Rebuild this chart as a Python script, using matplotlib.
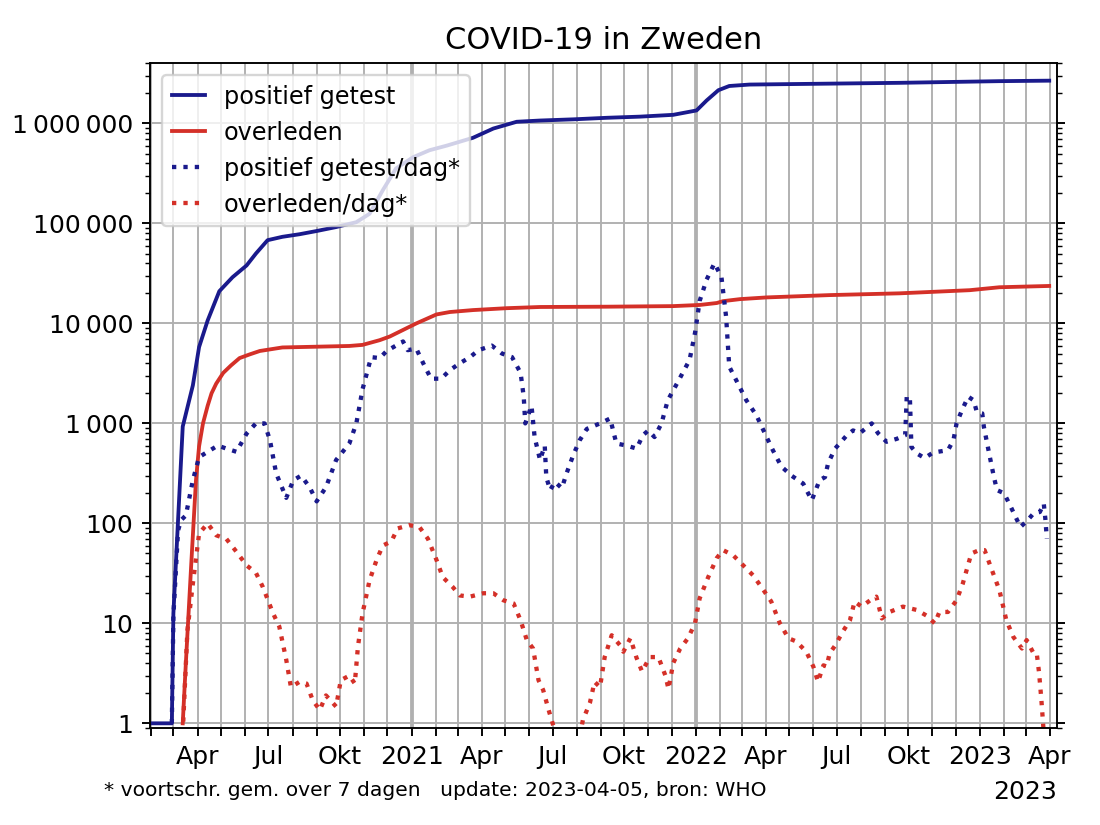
import matplotlib
matplotlib.use("Agg")
import matplotlib.pyplot as plt
import matplotlib.dates as mdates
from matplotlib.ticker import FuncFormatter, LogLocator, NullFormatter
import numpy as np
import pandas as pd

# cumulatieve reeksen
cum_pos_dates = ["2020-02-01", "2020-02-28", "2020-03-01", "2020-03-13", "2020-03-26", "2020-04-03",
                 "2020-04-14", "2020-04-29", "2020-05-16", "2020-06-03", "2020-06-15", "2020-06-30",
                 "2020-07-19", "2020-08-10", "2020-09-01", "2020-09-26", "2020-10-22", "2020-11-08",
                 "2020-11-25", "2020-12-12", "2021-01-03", "2021-01-24", "2021-02-15", "2021-03-21",
                 "2021-04-16", "2021-05-16", "2021-06-15", "2021-07-28", "2021-09-09", "2021-10-21",
                 "2021-12-03", "2022-01-02", "2022-01-15", "2022-01-30", "2022-02-13", "2022-03-11",
                 "2022-09-20", "2022-11-23", "2023-01-26", "2023-03-31"]
cum_pos = [1, 1, 12.6, 930, 2400, 5800,
           10700, 21000, 29000, 38000, 50000, 68000,
           73500, 78000, 84000, 92000, 103000, 125000,
           215000, 355000, 460000, 540000, 600000, 720000,
           890000, 1040000, 1070000, 1100000, 1140000, 1170000,
           1220000, 1350000, 1700000, 2150000, 2370000, 2450000,
           2550000, 2600000, 2650000, 2680000]

cum_dead_dates = ["2020-03-13", "2020-03-17", "2020-03-24", "2020-03-30", "2020-04-03", "2020-04-08",
                  "2020-04-14", "2020-04-19", "2020-04-25", "2020-05-04", "2020-05-14", "2020-05-25",
                  "2020-06-07", "2020-06-20", "2020-07-19", "2020-09-01", "2020-10-13",
                  "2020-10-30", "2020-11-21", "2020-12-04", "2021-01-07", "2021-02-02", "2021-02-19",
                  "2021-03-21", "2021-05-03", "2021-06-15", "2021-09-09", "2021-12-03", "2022-01-06",
                  "2022-01-28", "2022-02-05", "2022-02-27", "2022-04-02", "2022-06-22", "2022-09-20",
                  "2022-12-19", "2023-01-26", "2023-03-31"]
cum_dead = [1, 4, 40, 270, 590, 1000,
            1500, 2000, 2500, 3200, 3800, 4500,
            4900, 5300, 5750, 5850, 5950,
            6100, 6800, 7400, 10000, 12300, 13000,
            13600, 14200, 14600, 14700, 14900, 15300,
            16000, 16700, 17500, 18200, 19200, 20000,
            21500, 23000, 23700]

# 7-daags gemiddelde positief getest
day_pos_dates = ["2020-02-28", "2020-03-01", "2020-03-07", "2020-03-11", "2020-03-17", "2020-03-26",
                 "2020-04-03", "2020-04-14", "2020-04-27", "2020-05-08", "2020-05-21", "2020-06-03",
                 "2020-06-15", "2020-06-26", "2020-07-03", "2020-07-11", "2020-07-24", "2020-08-02",
                 "2020-08-12", "2020-08-23", "2020-09-01", "2020-09-13", "2020-09-26", "2020-10-13",
                 "2020-10-22", "2020-10-30", "2020-11-10", "2020-11-21", "2020-11-30", "2020-12-21",
                 "2020-12-27", "2021-01-07", "2021-01-11", "2021-01-18", "2021-01-26", "2021-02-08",
                 "2021-02-19", "2021-03-04", "2021-03-17", "2021-03-28", "2021-04-14", "2021-04-27",
                 "2021-05-10", "2021-05-21", "2021-05-25", "2021-05-27", "2021-06-04", "2021-06-08",
                 "2021-06-15", "2021-06-21", "2021-06-23", "2021-06-28", "2021-07-04", "2021-07-13",
                 "2021-07-19", "2021-07-28", "2021-08-05", "2021-08-14", "2021-08-31", "2021-09-13",
                 "2021-09-21", "2021-10-04", "2021-10-17", "2021-10-25", "2021-11-01", "2021-11-09",
                 "2021-11-18", "2021-11-26", "2021-12-09", "2021-12-24", "2021-12-31", "2022-01-06",
                 "2022-01-15", "2022-01-25", "2022-02-03", "2022-02-09", "2022-02-13", "2022-02-22",
                 "2022-03-07", "2022-03-20", "2022-04-02", "2022-04-10", "2022-04-21", "2022-05-04",
                 "2022-05-19", "2022-05-30", "2022-06-09", "2022-06-16", "2022-06-20", "2022-06-29",
                 "2022-07-14", "2022-07-22", "2022-07-31", "2022-08-15", "2022-08-23", "2022-09-03",
                 "2022-09-16", "2022-09-27", "2022-09-29", "2022-10-03", "2022-10-05", "2022-10-12",
                 "2022-10-22", "2022-10-31", "2022-11-08", "2022-11-21", "2022-11-28", "2022-12-02",
                 "2022-12-09", "2022-12-17", "2022-12-24", "2022-12-28", "2023-01-04", "2023-01-06",
                 "2023-01-12", "2023-01-19", "2023-01-23", "2023-02-01", "2023-02-09", "2023-02-22",
                 "2023-03-02", "2023-03-11", "2023-03-19", "2023-03-24", "2023-03-26", "2023-03-28"]
day_pos = [1, 12, 85, 108, 120, 270,
           460, 520, 600, 560, 520, 790,
           1000, 1000, 680, 316, 180, 270,
           300, 230, 166, 230, 430, 630,
           1000, 2200, 4600, 4500, 5300, 6600,
           5400, 5600, 4800, 3700, 2800, 2800,
           3400, 4000, 4600, 5400, 6000, 5000,
           4600, 3200, 1850, 1000, 1500, 730,
           430, 600, 290, 215, 260, 225,
           316, 490, 680, 880, 1000, 1120,
           630, 600, 560, 760, 850, 730,
           1000, 1700, 2600, 4300, 8000, 16800,
           27500, 40000, 29000, 11600, 3700, 2700,
           1700, 1200, 730, 540, 370, 300,
           250, 170, 270, 290, 400, 560,
           760, 850, 800, 1000, 800, 655,
           700, 760, 1850, 1850, 580, 500,
           450, 500, 520, 540, 680, 1000,
           1360, 1850, 1700, 1300, 1260, 930,
           540, 290, 215, 200, 150, 92,
           105, 126, 130, 158, 112, 70]

# 7-daags gemiddelde overleden
day_dead_dates = ["2020-03-13", "2020-03-19", "2020-03-26", "2020-04-03", "2020-04-14", "2020-04-25",
                  "2020-05-08", "2020-05-21", "2020-06-03", "2020-06-15", "2020-06-24", "2020-07-07",
                  "2020-07-15", "2020-07-24", "2020-07-30", "2020-08-10", "2020-08-19", "2020-08-27",
                  "2020-09-05", "2020-09-13", "2020-09-26", "2020-10-02", "2020-10-13", "2020-10-20",
                  "2020-10-24", "2020-10-30", "2020-11-08", "2020-11-17", "2020-11-25", "2020-12-06",
                  "2020-12-14", "2020-12-29", "2021-01-11", "2021-01-22", "2021-02-02", "2021-02-10",
                  "2021-02-23", "2021-03-04", "2021-03-17", "2021-04-03", "2021-04-16", "2021-04-29",
                  "2021-05-12", "2021-05-21", "2021-05-29", "2021-06-06", "2021-06-13", "2021-06-19",
                  "2021-06-26", "2021-07-02", "2021-07-10", "2021-08-01", "2021-08-09", "2021-08-18",
                  "2021-08-24", "2021-08-31", "2021-09-06", "2021-09-15", "2021-09-26", "2021-09-30",
                  "2021-10-09", "2021-10-17", "2021-10-24", "2021-11-03", "2021-11-14", "2021-11-23",
                  "2021-11-27", "2021-12-03", "2021-12-12", "2021-12-22", "2021-12-31", "2022-01-06",
                  "2022-01-17", "2022-01-28", "2022-02-05", "2022-02-18", "2022-03-03", "2022-03-16",
                  "2022-03-29", "2022-04-08", "2022-04-19", "2022-04-30", "2022-05-10", "2022-05-23",
                  "2022-06-01", "2022-06-07", "2022-06-14", "2022-06-18", "2022-06-22", "2022-06-29",
                  "2022-07-09", "2022-07-18", "2022-07-24", "2022-08-02", "2022-08-13", "2022-08-21",
                  "2022-08-28", "2022-09-07", "2022-09-24", "2022-10-12", "2022-10-24", "2022-11-04",
                  "2022-11-10", "2022-11-21", "2022-12-02", "2022-12-10", "2022-12-21", "2022-12-31",
                  "2023-01-07", "2023-01-15", "2023-01-26", "2023-02-04", "2023-02-13", "2023-02-24",
                  "2023-03-02", "2023-03-11", "2023-03-15", "2023-03-18", "2023-03-21", "2023-03-24",
                  "2023-03-28"]
day_dead = [0.8, 8.5, 25, 79, 100, 76,
            70, 52, 38, 32, 23, 12.6,
            9.3, 4.3, 2.3, 2.6, 2.5, 1.7,
            1.36, 1.9, 1.47, 2.7, 3.0, 2.5,
            5.8, 12.6, 27, 43, 60, 66,
            89, 96, 92, 70, 43, 29,
            23, 19, 18.5, 20, 20, 17,
            15.8, 10.7, 6.8, 5.6, 2.7, 2.15,
            1.36, 0.95, 0.5, 0.5, 1.08, 1.6,
            2.6, 2.3, 4.6, 7.6, 6, 5.2,
            7.1, 4.5, 3.3, 4.6, 4.6, 3.0,
            2.2, 4, 5.6, 7.1, 10, 17.8,
            29, 45, 54, 48, 38, 30,
            21.5, 16.5, 10, 7.1, 6.6, 5.2,
            3.7, 2.6, 3.8, 3.7, 5, 6,
            8.3, 10.7, 16.5, 14.7, 17, 18.5,
            11.2, 13, 14.7, 13.6, 12, 10,
            13, 13, 17, 25, 50, 54,
            54, 36.5, 21.5, 10.7, 7.3, 5.6,
            6.8, 5, 5, 3.2, 1.7, 0.8,
            0.5]

BLAUW = "#1a1a8c"
ROOD = "#d43028"

fig = plt.figure(figsize=(6.4, 4.8), dpi=171.875)
ax = fig.add_axes([0.1364, 0.1177, 0.8245, 0.8056])

ax.plot(pd.to_datetime(cum_pos_dates), cum_pos, color=BLAUW, lw=1.6, label="positief getest")
ax.plot(pd.to_datetime(cum_dead_dates), cum_dead, color=ROOD, lw=1.6, label="overleden")
ax.plot(pd.to_datetime(day_pos_dates), day_pos, color=BLAUW, lw=1.8, ls=":", label="positief getest/dag*")
ax.plot(pd.to_datetime(day_dead_dates), day_dead, color=ROOD, lw=1.8, ls=":", label="overleden/dag*")

ax.set_yscale("log")
ax.set_ylim(0.9, 4e6)
ax.set_xlim(pd.Timestamp("2020-01-31"), pd.Timestamp("2023-04-10"))

# y-as
ax.yaxis.set_major_locator(LogLocator(base=10, numticks=12))
ax.yaxis.set_minor_locator(LogLocator(base=10, subs=np.arange(2, 10), numticks=12))
ax.yaxis.set_major_formatter(FuncFormatter(lambda v, p: f"{int(round(v)):,}".replace(",", "\u2009")))
ax.yaxis.set_minor_formatter(NullFormatter())
ax.tick_params(axis="y", which="both", right=True)

# x-as: maandticks, labels per kwartaal
maanden = {1: None, 4: "Apr", 7: "Jul", 10: "Okt"}
def maand_label(x, pos):
    d = mdates.num2date(x)
    if d.month not in maanden:
        return ""
    return str(d.year) if d.month == 1 else maanden[d.month]

ax.xaxis.set_major_locator(mdates.MonthLocator())
ax.xaxis.set_major_formatter(FuncFormatter(maand_label))
ax.tick_params(axis="both", labelsize=10.5)

ax.grid(True, which="major", color="#b0b0b0", lw=0.8)
for jaar in ["2021-01-01", "2022-01-01"]:
    ax.axvline(pd.Timestamp(jaar), color="#b0b0b0", lw=1.6, zorder=0.9)
ax.set_axisbelow(True)

ax.set_title("COVID-19 in Zweden", fontsize=12.8)
ax.legend(loc="upper left", fontsize=10, handlelength=1.4)

fig.text(0.095, 0.035, "* voortschr. gem. over 7 dagen   update: 2023-04-05, bron: WHO", fontsize=8.5)
fig.text(0.961, 0.032, "2023", fontsize=10.5, ha="right")

fig.savefig("out.png")
